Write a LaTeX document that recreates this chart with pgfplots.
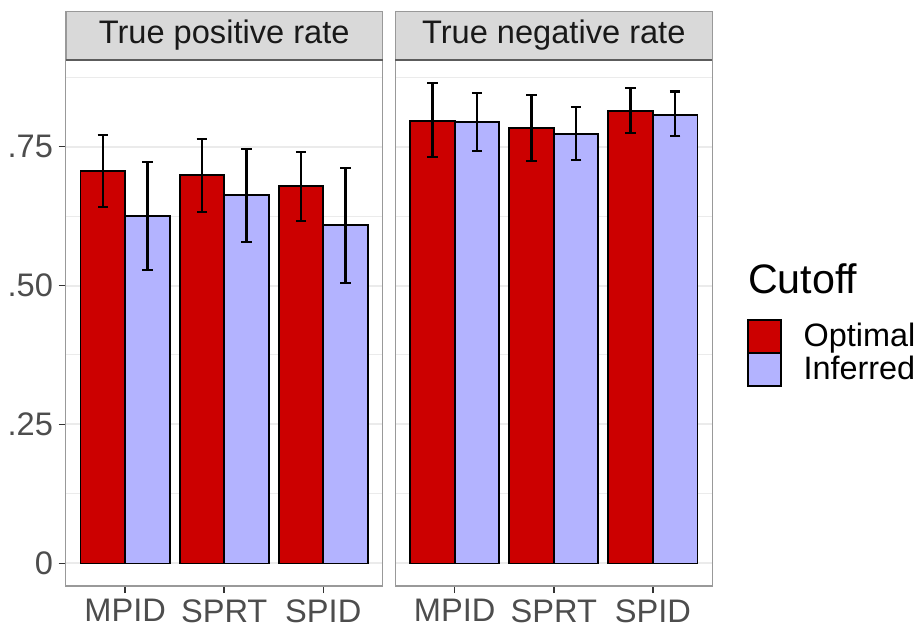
\documentclass[border=0pt]{standalone}
\usepackage{fontspec}
\setmainfont{Liberation Sans}
\usepackage{pgfplots}
\pgfplotsset{compat=1.18}
\definecolor{optred}{HTML}{CC0000}
\definecolor{infblue}{HTML}{B3B3FF}
\definecolor{gridc}{HTML}{EBEBEB}
\definecolor{borderc}{HTML}{999999}
\definecolor{tickc}{HTML}{333333}
\definecolor{labc}{HTML}{4D4D4D}
\definecolor{stripc}{HTML}{D9D9D9}
\begin{document}
\begin{tikzpicture}
\path (0,0) rectangle (460pt,313pt);
\pgfplotsset{
  panel/.style={
    scale only axis, width=158.5pt, height=263pt,
    xmin=0.4, xmax=3.6, ymin=-0.0405, ymax=0.9056,
    xtick={1,2,3}, xticklabels={MPID,SPRT,SPID},
    ytick={0,0.25,0.5,0.75},
    minor ytick={0.125,0.375,0.625,0.875},
    ymajorgrids, yminorgrids,
    major grid style={gridc, line width=1pt},
    minor grid style={gridc, line width=0.5pt},
    minor tick length=0pt,
    axis line style={borderc, line width=0.8pt},
    tick align=outside, major tick length=3.5pt,
    tick style={tickc, line width=0.7pt},
    xtick pos=bottom, 
    ticklabel style={font=\fontsize{16.3}{19}\selectfont, text=labc},
    xticklabel style={inner sep=3pt},
    yticklabel style={inner sep=2.7pt},
    axis on top=false,
    ybar, bar width=0.45,
    clip=false,
  },
  optbar/.style={fill=optred, draw=black, line width=0.9pt, bar shift=-0.225,
    error bars/.cd, y dir=both, y explicit,
    error bar style={black, line width=1.1pt},
    error mark options={rotate=90, mark size=2.6pt, line width=1.1pt, black}},
  infbar/.style={fill=infblue, draw=black, line width=0.9pt, bar shift=0.225,
    error bars/.cd, y dir=both, y explicit,
    error bar style={black, line width=1.1pt},
    error mark options={rotate=90, mark size=2.6pt, line width=1.1pt, black}},
}
\begin{axis}[panel, name=left, at={(32.85pt,20pt)}, anchor=south west,
  ytick pos=left, yticklabels={0,.25,.50,.75}]
\addplot+[optbar] table[x=x, y=y, y error plus=ep, y error minus=em] {
x y ep em
1 0.7065 0.0642 0.0659
2 0.6987 0.0648 0.0665
3 0.6784 0.0622 0.0629
};
\addplot+[infbar] table[x=x, y=y, y error plus=ep, y error minus=em] {
x y ep em
1 0.6255 0.0961 0.0971
2 0.6622 0.0833 0.0840
3 0.6083 0.1030 0.1033
};
\end{axis}
\begin{axis}[panel, name=right, at={(197.65pt,20pt)}, anchor=south west,
  yticklabels={}, y tick style={draw=none},
  legend style={at={(1.1085,0.5076)}, anchor=north west, draw=none, fill=none,
    inner sep=0pt, row sep=-0.9pt, font=\fontsize{16.2}{19}\selectfont,
    nodes={inner sep=0pt},
    /tikz/every odd column/.style={column sep=10.85pt}},
  legend cell align=left,
  legend image code/.code={\draw[#1, line width=0.9pt] (0pt,-2.45pt) rectangle (16.5pt,14.05pt);}]
\addplot+[optbar] table[x=x, y=y, y error plus=ep, y error minus=em] {
x y ep em
1 0.7964 0.0678 0.0658
2 0.7838 0.0594 0.0604
3 0.8144 0.0403 0.0407
};
\addlegendentry{\raisebox{0pt}[0pt][0pt]{Optimal}}
\addplot+[infbar] table[x=x, y=y, y error plus=ep, y error minus=em] {
x y ep em
1 0.7940 0.0517 0.0516
2 0.7730 0.0480 0.0478
3 0.8072 0.0417 0.0388
};
\addlegendentry{\raisebox{0pt}[0pt][0pt]{Inferred}}
\end{axis}
\foreach \p/\t in {left/True positive rate, right/True negative rate}{
  \draw[borderc, line width=0.8pt, fill=stripc] (\p.north west) rectangle ([yshift=24.15pt]\p.north east);
  \draw[tickc!80, line width=0.9pt] (\p.north west) -- (\p.north east);
  \node[text=black!90, font=\fontsize{16.3}{19}\selectfont, anchor=center]
    at ([yshift=12.4pt]\p.north) {\t};
}
\node[anchor=base west, font=\fontsize{20.6}{24}\selectfont, inner sep=0pt] at (373.8pt,166.5pt) {Cutoff};
\end{tikzpicture}
\end{document}
